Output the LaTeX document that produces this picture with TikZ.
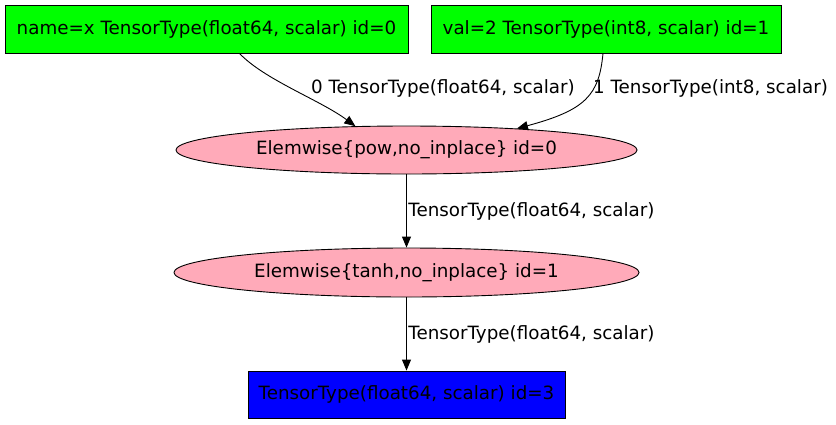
\documentclass[tikz,border=0pt]{standalone}
\usepackage{fontspec}
\setmainfont{DejaVu Sans}
\usetikzlibrary{shapes.geometric,arrows.meta}
\definecolor{oppink}{RGB}{255,170,185}
\tikzset{
  every node/.style={font=\fontsize{18.3}{20}\selectfont, inner sep=0pt},
  inbox/.style={draw, line width=0.9pt, fill=green, rectangle},
  opnode/.style={draw, line width=0.9pt, fill=oppink, ellipse},
  outbox/.style={draw, line width=0.9pt, fill=blue, rectangle},
  edge/.style={line width=0.9pt, -{Triangle[length=11pt,width=9pt]}},
  elabel/.style={anchor=west}
}
\begin{document}
\begin{tikzpicture}[x=1pt,y=-1pt]
                \useasboundingbox (0,0) rectangle (836,424);
                \node[inbox, minimum width=403pt, minimum height=48pt] (x) at (206.5,29) {name=x TensorType(float64, scalar) id=0};
                \node[inbox, minimum width=350pt, minimum height=48pt] (val) at (606,29) {val=2 TensorType(int8, scalar) id=1};
                \node[opnode, minimum width=461pt, minimum height=48pt] (pow) at (406.5,150) {Elemwise\{pow,no\_inplace\} id=0};
                \node[opnode, minimum width=465pt, minimum height=49pt] (tanh) at (406.5,272.5) {Elemwise\{tanh,no\_inplace\} id=1};
                \node[outbox, minimum width=317pt, minimum height=47pt] (out) at (406.5,394.5) {TensorType(float64, scalar) id=3};
                \node[elabel] (lx) at (311,88) {0 TensorType(float64, scalar)};
                \node[elabel] (lval) at (593,88) {1 TensorType(int8, scalar)};

                \draw[edge] ([xshift=33pt]x.south) .. controls (265,80) and (320,100) .. (pow.155); \draw[edge] ([xshift=-3pt]val.south) .. controls (599,95) and (586,110) .. (pow.11);
                \draw[edge] (pow) to node[midway, right, inner sep=1.5pt] {TensorType(float64, scalar)} (tanh); \draw[edge] (tanh) to node[midway, right, inner sep=1.5pt] {TensorType(float64, scalar)} (out);
            \end{tikzpicture}
\end{document}
